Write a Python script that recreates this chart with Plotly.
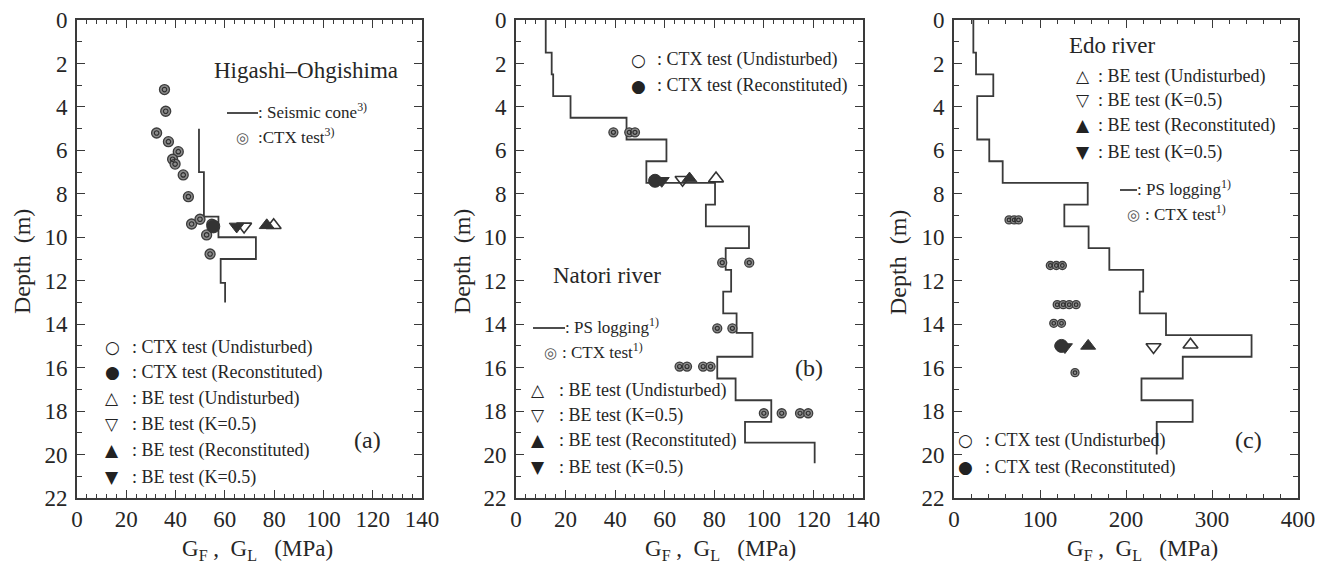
import plotly.graph_objects as go

# ---------------- DATA ----------------
# Panel (a) Higashi-Ohgishima : seismic cone profile (layer tops, G) and tests
a_cone_top = [5.0, 7.0, 9.05, 10.0, 11.0, 12.1]
a_cone_G = [49.5, 51.5, 57.4, 72.6, 58.3, 60.1]
a_cone_bottom = 13.0
a_ctx_G = [35.5, 36.0, 32.3, 37.1, 41.1, 38.8, 39.8, 43.1, 45.2, 46.5, 49.9, 52.6, 54.0, 54.7]
a_ctx_depth = [3.2, 4.2, 5.2, 5.6, 6.06, 6.41, 6.63, 7.13, 8.13, 9.39, 9.17, 9.89, 10.77, 9.4]
a_rec_G, a_rec_depth = [55.3], [9.5]
a_be_und_G, a_be_und_depth = [79.8], [9.45]
a_be_k05u_G, a_be_k05u_depth = [67.8], [9.5]
a_be_rec_G, a_be_rec_depth = [77.0], [9.45]
a_be_k05r_G, a_be_k05r_depth = [64.8], [9.5]

# Panel (b) Natori river
b_ps_top = [0, 1.5, 2.5, 3.5, 4.5, 5.5, 6.5, 7.5, 8.5, 9.5, 10.5, 11.5, 12.5, 13.5, 14.4,
            15.5, 16.5, 17.5, 18.5, 19.45]
b_ps_G = [12, 14.4, 15, 22, 44.6, 60.7, 52.6, 80.3, 76.6, 94, 84.6, 86.8, 83.6, 89, 95.4,
          81.2, 88.6, 103, 92.4, 120.5]
b_ps_bottom = 20.4
b_ctx_G = [39.3, 45.7, 48.0, 83.2, 94.1, 81.2, 87.3, 66, 69, 75.5, 78.5, 100, 107.2, 114.6, 117.9]
b_ctx_depth = [5.17, 5.17, 5.17, 11.17, 11.17, 14.19, 14.19, 15.95, 15.95, 15.95, 15.95,
               18.1, 18.1, 18.1, 18.1]
b_rec_G, b_rec_depth = [56.1], [7.4]
b_be_und_G, b_be_und_depth = [80.7], [7.3]
b_be_k05u_G, b_be_k05u_depth = [67.2], [7.35]
b_be_rec_G, b_be_rec_depth = [70.0], [7.3]
b_be_k05r_G, b_be_k05r_depth = [58.8], [7.4]

# Panel (c) Edo river
c_ps_top = [0, 1.5, 2.5, 3.5, 5.5, 6.5, 7.5, 8.5, 9.5, 10.5, 11.5, 12.5, 13.5, 14.5,
            15.5, 16.5, 17.5, 18.5]
c_ps_G = [22.5, 25.6, 45.7, 27, 41, 56.6, 155.5, 128.3, 156.5, 180.6, 220, 216, 246.5, 346,
          266, 218, 277.5, 235.7]
c_ps_bottom = 20.0
c_ctx_G = [64, 70, 75, 112, 119, 126, 120, 127, 134, 142, 116, 125, 122, 140.7]
c_ctx_depth = [9.2, 9.2, 9.2, 11.3, 11.3, 11.3, 13.1, 13.1, 13.1, 13.1, 13.96, 13.96, 15.0, 16.23]
c_rec_G, c_rec_depth = [125.0], [15.0]
c_be_und_G, c_be_und_depth = [275.0], [14.95]
c_be_k05u_G, c_be_k05u_depth = [232.0], [15.05]
c_be_rec_G, c_be_rec_depth = [156.0], [15.0]
c_be_k05r_G, c_be_k05r_depth = [129.0], [15.05]

x_ticks_ab = [0, 20, 40, 60, 80, 100, 120, 140]
x_ticks_c = [0, 100, 200, 300, 400]
depth_ticks = list(range(0, 23, 2))

# ---------------- LAYOUT ----------------
W, H = 1335, 566
SERIF = "Liberation Serif"
INK = "#262626"
LINE = "#3a3a3a"


def px(x):
    return x / W


def py(y):
    return 1 - y / H


panels = [
    dict(ax="", x0=77, x1=422, xr=[0, 140], ticks=x_ticks_ab, minor=4),
    dict(ax="2", x0=516, x1=863, xr=[0, 140], ticks=x_ticks_ab, minor=4),
    dict(ax="3", x0=954, x1=1298, xr=[0, 400], ticks=x_ticks_c, minor=20),
]
Y_TOP, Y_BOT = 20, 498

fig = go.Figure()


def step_trace(tops, Gs, bottom, ax):
    xs = list(Gs) + [Gs[-1]]
    ys = list(tops) + [bottom]
    fig.add_trace(go.Scatter(x=xs, y=ys, mode="lines", line=dict(color=LINE, width=1.8, shape="vh"),
                             xaxis="x" + ax, yaxis="y" + ax, showlegend=False, hoverinfo="skip"))


def ctx_trace(Gs, ds, ax, size=10):
    fig.add_trace(go.Scatter(x=Gs, y=ds, mode="markers",
                             marker=dict(symbol="circle", size=size, color="#8c8c8c",
                                         line=dict(color="#3c3c3c", width=1.3)),
                             xaxis="x" + ax, yaxis="y" + ax, showlegend=False))
    fig.add_trace(go.Scatter(x=Gs, y=ds, mode="markers",
                             marker=dict(symbol="circle-open", size=size * 0.45, color="#2e2e2e",
                                         line=dict(color="#2e2e2e", width=1.2)),
                             xaxis="x" + ax, yaxis="y" + ax, showlegend=False))


def mk(Gs, ds, ax, symbol, filled, size=13):
    if filled:
        m = dict(symbol=symbol, size=size, color="#333333", line=dict(color="#333333", width=1))
    else:
        m = dict(symbol=symbol, size=size, color="#333333", line=dict(color="#333333", width=1.6))
    fig.add_trace(go.Scatter(x=Gs, y=ds, mode="markers", marker=m,
                             xaxis="x" + ax, yaxis="y" + ax, showlegend=False))


# panel a
step_trace(a_cone_top, a_cone_G, a_cone_bottom, "")
ctx_trace(a_ctx_G, a_ctx_depth, "")
mk(a_rec_G, a_rec_depth, "", "circle", True)
mk(a_be_k05r_G, a_be_k05r_depth, "", "triangle-down", True)
mk(a_be_k05u_G, a_be_k05u_depth, "", "triangle-down-open", False)
mk(a_be_rec_G, a_be_rec_depth, "", "triangle-up", True)
mk(a_be_und_G, a_be_und_depth, "", "triangle-up-open", False)

# panel b
step_trace(b_ps_top, b_ps_G, b_ps_bottom, "2")
ctx_trace(b_ctx_G, b_ctx_depth, "2", size=9)
mk(b_rec_G, b_rec_depth, "2", "circle", True)
mk(b_be_k05r_G, b_be_k05r_depth, "2", "triangle-down", True)
mk(b_be_k05u_G, b_be_k05u_depth, "2", "triangle-down-open", False)
mk(b_be_rec_G, b_be_rec_depth, "2", "triangle-up", True)
mk(b_be_und_G, b_be_und_depth, "2", "triangle-up-open", False)

# panel c
step_trace(c_ps_top, c_ps_G, c_ps_bottom, "3")
ctx_trace(c_ctx_G, c_ctx_depth, "3", size=8)
mk(c_be_k05r_G, c_be_k05r_depth, "3", "triangle-down", True)
mk(c_rec_G, c_rec_depth, "3", "circle", True)
mk(c_be_rec_G, c_be_rec_depth, "3", "triangle-up", True)
mk(c_be_k05u_G, c_be_k05u_depth, "3", "triangle-down-open", False)
mk(c_be_und_G, c_be_und_depth, "3", "triangle-up-open", False)

layout = dict(width=W, height=H, margin=dict(l=0, r=0, t=0, b=0),
              paper_bgcolor="white", plot_bgcolor="white", showlegend=False,
              font=dict(family=SERIF, color=INK))

for p in panels:
    ax = p["ax"]
    layout["xaxis" + ax] = dict(
        domain=[px(p["x0"]), px(p["x1"])], range=p["xr"], anchor="y" + ax,
        tickvals=p["ticks"], ticks="inside", ticklen=8, tickwidth=1.2, tickcolor=LINE,
        minor=dict(dtick=p["minor"], ticks="inside", ticklen=4, tickcolor=LINE, tickwidth=1),
        showline=True, linecolor=LINE, linewidth=1.6, mirror="ticks",
        showgrid=False, zeroline=False, tickfont=dict(family=SERIF, size=23, color=INK),
        ticklabelstandoff=0, automargin=False, fixedrange=True)
    layout["yaxis" + ax] = dict(
        domain=[py(Y_BOT), py(Y_TOP)], range=[22, 0], anchor="x" + ax,
        tickvals=depth_ticks, ticks="inside", ticklen=8, tickwidth=1.2, tickcolor=LINE,
        minor=dict(dtick=1, ticks="inside", ticklen=5, tickcolor=LINE, tickwidth=1),
        showline=True, linecolor=LINE, linewidth=1.6, mirror="ticks",
        showgrid=False, zeroline=False, tickfont=dict(family=SERIF, size=23, color=INK),
        ticklabelstandoff=3, automargin=False, fixedrange=True)

anns = []
shapes = []


def text(t, x, y, size=18, xanchor="left", angle=0, color=INK):
    anns.append(dict(text=t, x=px(x), y=py(y), xref="paper", yref="paper", showarrow=False,
                     xanchor=xanchor, yanchor="middle", textangle=angle,
                     font=dict(family=SERIF, size=size, color=color)))


def sym(ch, x, y, size=17, color="#222"):
    anns.append(dict(text=ch, x=px(x), y=py(y), xref="paper", yref="paper", showarrow=False,
                     xanchor="center", yanchor="middle",
                     font=dict(family="DejaVu Sans", size=size, color=color)))


def legline(x0, x1, y):
    shapes.append(dict(type="line", xref="paper", yref="paper", x0=px(x0), x1=px(x1),
                       y0=py(y), y1=py(y), line=dict(color=LINE, width=1.8)))


# axis titles
for cx in (22, 462, 898):
    text("Depth  (m)", cx, 262, size=24, xanchor="center", angle=-90)
for cx in (257, 720, 1142):
    text("G<sub>F</sub> ,  G<sub>L</sub>   (MPa)", cx, 550, size=23, xanchor="center")

# site names and panel labels
text("Higashi–Ohgishima", 212, 70, size=23)
text("Natori river", 551, 275, size=23)
text("Edo river", 1067, 45, size=23)
text("(a)", 367, 440, size=24, xanchor="center")
text("(b)", 809, 368, size=24, xanchor="center")
text("(c)", 1248, 440, size=24, xanchor="center")

# legend entries
OPEN_C, FILL_C, OPEN_UP, OPEN_DN, FILL_UP, FILL_DN, HATCH = "○", "●", "△", "▽", "▲", "▼", "◎"
entries_six = [
    (OPEN_C, ": CTX test (Undisturbed)"),
    (FILL_C, ": CTX test (Reconstituted)"),
    (OPEN_UP, ": BE test (Undisturbed)"),
    (OPEN_DN, ": BE test (K=0.5)"),
    (FILL_UP, ": BE test (Reconstituted)"),
    (FILL_DN, ": BE test (K=0.5)"),
]
# panel a lower legend
for (s, t), y in zip(entries_six, [347, 372, 398, 424, 450, 477]):
    sym(s, 112, y)
    text(t, 130, y)
# panel a upper legend
legline(227, 258, 113)
text(": Seismic cone<sup>3)</sup>", 256, 111, size=17)
sym(HATCH, 242, 138, size=15, color="#555")
text(":CTX test<sup>3)</sup>", 256, 136, size=17)

# panel b upper legend
for (s, t), y in zip(entries_six[:2], [60, 86]):
    sym(s, 638, y)
    text(t, 655, y)
# panel b lower legend
legline(533, 565, 328)
text(": PS logging<sup>1)</sup>", 563, 326, size=17)
sym(HATCH, 550, 353, size=15, color="#555")
text(": CTX test<sup>1)</sup>", 560, 351, size=17)
for (s, t), y in zip(entries_six[2:], [390, 415, 440, 467]):
    sym(s, 538, y)
    text(t, 557, y)

# panel c upper legend
for (s, t), y in zip(entries_six[2:], [76, 100, 125, 152]):
    sym(s, 1083, y)
    text(t, 1096, y)
legline(1120, 1137, 190)
text(": PS logging<sup>1)</sup>", 1135, 188, size=17)
sym(HATCH, 1133, 215, size=15, color="#555")
text(": CTX test<sup>1)</sup>", 1143, 213, size=17)
# panel c lower legend
for (s, t), y in zip(entries_six[:2], [440, 467]):
    sym(s, 965, y)
    text(t, 983, y)

layout["annotations"] = anns
layout["shapes"] = shapes
fig.update_layout(**layout)
fig.write_html("out.html", config={"displayModeBar": False, "staticPlot": False},
               post_script="document.body.style.margin='0';document.body.style.overflow='hidden';")
